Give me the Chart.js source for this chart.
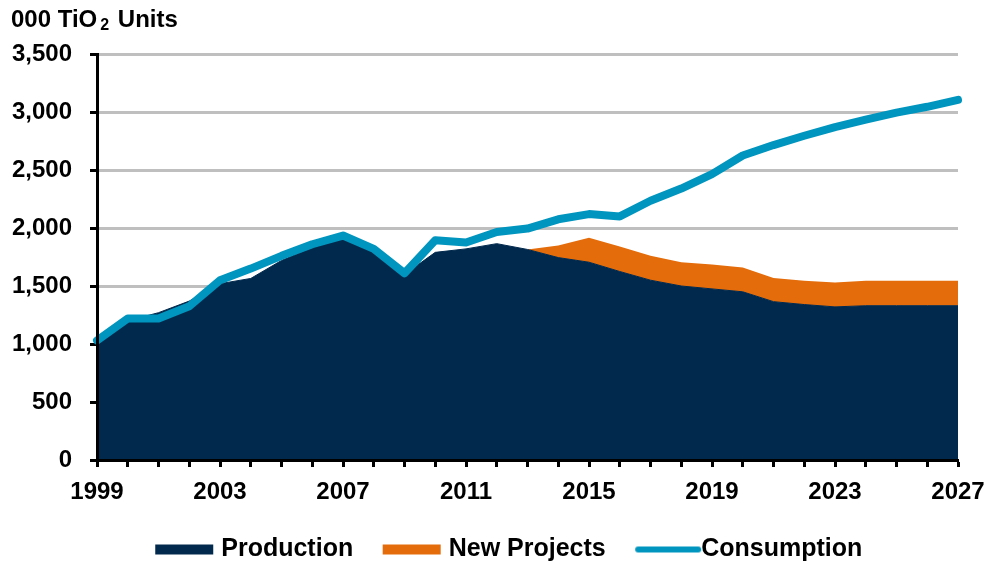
<!DOCTYPE html>
<html>
<head>
<meta charset="utf-8">
<script src="https://cdn.jsdelivr.net/npm/chart.js@4/dist/chart.umd.min.js"></script>
<style>
  html, body { margin: 0; padding: 0; background: #fff; }
  #wrap { position: relative; width: 991px; height: 562px; }
  #unit {
    position: absolute; left: 11px; top: 5px;
    font: bold 24px "Liberation Sans", Arial, sans-serif; color: #000;
    white-space: nowrap;
  }
  #unit sub { font-size: 16px; vertical-align: -3px; margin-left: 3px; margin-right: 2px; }
  canvas { display: block; }
</style>
</head>
<body>
<div id="wrap">
  <canvas id="c" width="991" height="562"></canvas>
  <div id="unit">000 TiO<sub>2</sub> Units</div>
</div>
<script>
// Years on the category axis
const years = [1999, 2000, 2001, 2002, 2003, 2004, 2005, 2006, 2007, 2008,
               2009, 2010, 2011, 2012, 2013, 2014, 2015, 2016, 2017, 2018,
               2019, 2020, 2021, 2022, 2023, 2024, 2025, 2026, 2027];

// Production (000 TiO2 units)
const production = [1030, 1200, 1270, 1370, 1520, 1565, 1720, 1830, 1910, 1800,
                    1600, 1790, 1820, 1865, 1815, 1745, 1705, 1625, 1550, 1500,
                    1475, 1450, 1365, 1340, 1320, 1330, 1330, 1330, 1330];

// Additional supply from new projects, stacked on production
const newProjects = [null, null, null, null, null, null, null, null, null, null,
                     null, null, null, null, 0, 105, 210, 215, 210, 205,
                     210, 210, 205, 205, 210, 215, 215, 215, 215];

// Consumption (000 TiO2 units)
const consumption = [1030, 1220, 1220, 1325, 1550, 1650, 1760, 1860, 1935, 1820,
                     1610, 1895, 1875, 1965, 1995, 2075, 2120, 2100, 2235, 2340,
                     2465, 2625, 2715, 2795, 2870, 2935, 2995, 3045, 3105];

// Y-axis ticks
const yTicks = [0, 500, 1000, 1500, 2000, 2500, 3000, 3500];

const NAVY = '#00294D';
const ORANGE = '#E46C0A';
const TEAL = '#0095BE';

// Legend swatches: a wide bar for the areas, a rounded stroke for the line
function swatch(kind, color) {
  const cv = document.createElement('canvas');
  cv.width = 120; cv.height = 14;
  const g = cv.getContext('2d');
  const a = 33;
  if (kind === 'box') {
    g.fillStyle = color;
    g.fillRect(a, 2, 58, 10);
  } else {
    g.strokeStyle = color;
    g.lineWidth = 6;
    g.lineCap = 'round';
    g.beginPath();
    g.moveTo(a + 3, 7);
    g.lineTo(a + 63, 7);
    g.stroke();
  }
  return cv;
}

// Nudge the legend block to the right of the plot centre
const legendShift = {
  id: 'legendShift',
  afterLayout(chart) {
    const lg = chart.legend;
    if (lg) { lg.left += 30; lg.right += 30; }
  }
};

Chart.defaults.font.family = '"Liberation Sans", Arial, sans-serif';
Chart.defaults.font.weight = 'bold';
Chart.defaults.font.size = 24;
Chart.defaults.color = '#000';

new Chart(document.getElementById('c'), {
  type: 'line',
  plugins: [legendShift],
  data: {
    labels: years,
    datasets: [
      {
        label: 'Production',
        data: production,
        stack: 'supply',
        order: 1,
        fill: 'origin',
        backgroundColor: NAVY,
        borderColor: NAVY,
        borderWidth: 1,
        pointRadius: 0,
        pointStyle: swatch('box', NAVY),
        tension: 0
      },
      {
        label: 'New Projects',
        data: newProjects,
        stack: 'supply',
        order: 2,
        fill: '-1',
        backgroundColor: ORANGE,
        borderColor: 'rgba(0,0,0,0)',
        borderWidth: 0,
        pointRadius: 0,
        pointStyle: swatch('box', ORANGE),
        tension: 0
      },
      {
        label: 'Consumption',
        data: consumption,
        stack: 'demand',
        order: 0,
        fill: false,
        borderColor: TEAL,
        backgroundColor: TEAL,
        borderWidth: 8,
        borderJoinStyle: 'round',
        borderCapStyle: 'round',
        pointRadius: 0,
        pointStyle: swatch('line', TEAL),
        tension: 0,
        clip: false
      }
    ]
  },
  options: {
    responsive: false,
    animation: false,
    layout: { padding: { left: 0, right: 33, top: 54, bottom: -10 } },
    plugins: {
      tooltip: { enabled: false },
      legend: {
        position: 'bottom',
        labels: {
          usePointStyle: true,
          pointStyleWidth: 53,
          padding: 30,
          font: { size: 25, weight: 'bold' },
          sort: (a, b) => a.datasetIndex - b.datasetIndex
        }
      }
    },
    scales: {
      x: {
        type: 'category',
        offset: false,
        afterFit: (s) => { s.height = 47; s.paddingLeft = 0; s.paddingRight = 0; },
        grid: {
          drawOnChartArea: false,
          drawTicks: true,
          tickLength: 7,
          tickWidth: 3,
          tickColor: '#000'
        },
        border: { display: true, color: '#000', width: 3, z: 1 },
        ticks: {
          autoSkip: false,
          maxRotation: 0,
          padding: 11,
          callback: function (value, index) {
            const y = years[index];
            return (y - years[0]) % 4 === 0 ? String(y) : '';
          }
        }
      },
      y: {
        stacked: true,
        min: yTicks[0],
        max: yTicks[yTicks.length - 1],
        afterBuildTicks: (scale) => { scale.ticks = yTicks.map(v => ({ value: v })); },
        afterFit: (s) => { s.width = 97; s.paddingTop = 0; s.paddingBottom = 0; },
        grid: {
          color: '#BFBFBF',
          lineWidth: 3,
          tickLength: 7,
          tickWidth: 3,
          tickColor: '#000'
        },
        border: { display: true, color: '#000', width: 3, z: 1 },
        ticks: {
          padding: 18,
          callback: (v) => v.toLocaleString('en-US')
        }
      }
    }
  }
});
</script>
</body>
</html>
